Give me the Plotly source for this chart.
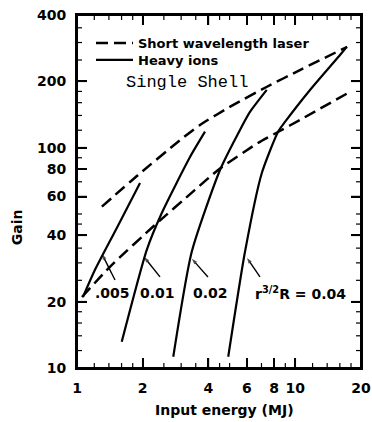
import numpy as np
import plotly.graph_objects as go

# ---- data (log-log axes) ----
laser_a_x = [1.30, 1.90, 2.96, 3.66, 5.18, 7.42, 10.5, 17.3]
laser_a_y = [54, 75, 108, 126.8, 156, 189, 225, 287]
laser_b_x = [1.054, 1.416, 2.277, 3.47, 4.43, 6.74, 8.33, 10.5, 17.43]
laser_b_y = [21.0, 28.8, 44.6, 64.3, 79.2, 105, 117.8, 133.6, 177.1]

ion_005_x = [1.065, 1.209, 1.52, 1.944]
ion_005_y = [21.0, 27.9, 43.1, 69.2]
ion_01_x = [1.603, 2.086, 2.443, 3.294, 3.858]
ion_01_y = [13.16, 34.3, 50.4, 90.7, 118.2]
ion_02_x = [2.761, 3.353, 4.52, 5.58, 6.20, 7.40]
ion_02_y = [11.25, 33.6, 79.2, 120.3, 145.2, 182.8]
ion_04_x = [4.93, 5.88, 7.02, 8.33, 8.97, 11.68, 16.03, 17.07]
ion_04_y = [11.25, 33.6, 76.5, 117.8, 130.8, 182.8, 263.5, 283.6]

curve_labels = [".005", "0.01", "0.02", "r<sup>3/2</sup>R = 0.04"]
label_x = [1.46, 2.33, 4.11, 10.6]
label_y = [21.9, 21.9, 21.9, 21.9]
leader_tail_x = [1.493, 2.40, 3.98, 6.89]
leader_tail_y = [25.1, 25.9, 25.9, 25.9]
leader_head_x = [1.302, 2.03, 3.36, 6.01]
leader_head_y = [32.9, 31.9, 31.3, 31.6]

x_lim = [1, 20]
y_lim = [10, 400]
x_ticks = [1, 2, 4, 6, 8, 10, 20]
x_minor = [1.2, 1.4, 1.6, 1.8, 2.5, 3, 3.5, 4.5, 5, 7, 9, 12, 14, 16, 18]
y_ticks = [10, 20, 40, 60, 80, 100, 200, 400]
y_minor = [12, 14, 16, 18, 25, 30, 35, 45, 50, 70, 90, 120, 140, 160, 180, 250, 300, 350]

INK = "black"
FONT = "DejaVu Sans"

fig = go.Figure()

dash_line = dict(color=INK, width=2.5, dash="12px,6px", shape="spline", smoothing=0.6)
solid_line = dict(color=INK, width=2.2, shape="spline", smoothing=0.6)

fig.add_trace(go.Scatter(x=laser_a_x, y=laser_a_y, mode="lines", line=dash_line,
                         name="<b>Short wavelength laser</b>", legend="legend", showlegend=True))
fig.add_trace(go.Scatter(x=laser_b_x, y=laser_b_y, mode="lines", line=dash_line,
                         showlegend=False))

first = True
for xs, ys in [(ion_005_x, ion_005_y), (ion_01_x, ion_01_y),
               (ion_02_x, ion_02_y), (ion_04_x, ion_04_y)]:
    fig.add_trace(go.Scatter(x=xs, y=ys, mode="lines", line=solid_line,
                             name="<b>Heavy ions</b>", legend="legend2", showlegend=first))
    first = False

# leader lines with small arrow heads
for tx, ty, hx, hy in zip(leader_tail_x, leader_tail_y, leader_head_x, leader_head_y):
    fig.add_trace(go.Scatter(
        x=[tx, hx], y=[ty, hy], mode="lines+markers",
        line=dict(color=INK, width=1.4),
        marker=dict(symbol=["circle", "arrow"], size=[0, 6], color=INK,
                    angleref="previous", line=dict(width=0)),
        showlegend=False, hoverinfo="skip"))

# ---- frame and inward ticks as layout shapes (positioned through the axes) ----
shapes = [dict(type="rect", xref="paper", yref="paper", x0=0, x1=1, y0=0, y1=1,
               line=dict(color=INK, width=2), layer="above")]
for vals, ln, w in [(x_ticks, 10, 1.5), (x_minor, 5, 1.2)]:
    for v in vals:
        for anchor, sign in [(0, 1), (1, -1)]:
            shapes.append(dict(type="line", xref="x", yref="paper", x0=v, x1=v,
                               ysizemode="pixel", yanchor=anchor, y0=0, y1=sign * ln,
                               line=dict(color=INK, width=w), layer="above"))
for vals, ln, w in [(y_ticks, 10, 1.5), (y_minor, 5, 1.2)]:
    for v in vals:
        for anchor, sign in [(0, 1), (1, -1)]:
            shapes.append(dict(type="line", yref="y", xref="paper", y0=v, y1=v,
                               xsizemode="pixel", xanchor=anchor, x0=0, x1=sign * ln,
                               line=dict(color=INK, width=w), layer="above"))

annotations = []
for txt, lx, ly in zip(curve_labels, label_x, label_y):
    annotations.append(dict(x=np.log10(lx), y=np.log10(ly), xref="x", yref="y",
                            text="<b>" + txt + "</b>", showarrow=False,
                            xanchor="center", yanchor="middle",
                            font=dict(family=FONT, size=14, color=INK)))

annotations.append(dict(x=0.389, y=0.810, xref="paper", yref="paper", text="Single Shell",
                        showarrow=False, xanchor="center", yanchor="middle",
                        font=dict(family="Liberation Mono", size=17, color=INK)))
annotations.append(dict(x=-0.211, y=0.399, xref="paper", yref="paper", text="<b>Gain</b>",
                        textangle=-90, showarrow=False, xanchor="center", yanchor="middle",
                        font=dict(family=FONT, size=14, color=INK)))
annotations.append(dict(x=0.521, y=-0.119, xref="paper", yref="paper",
                        text="<b>Input energy (MJ)</b>",
                        showarrow=False, xanchor="center", yanchor="middle",
                        font=dict(family=FONT, size=14, color=INK)))

tick_font = dict(family=FONT, size=14, color=INK)
axis_common = dict(type="log", showgrid=False, zeroline=False, automargin=False,
                   showline=True, linecolor=INK, linewidth=2, mirror="ticks",
                   ticks="inside", ticklen=10, tickwidth=1.5, tickcolor=INK,
                   tickmode="array", tickfont=tick_font, ticklabelstandoff=6)

fig.update_xaxes(**axis_common, range=[np.log10(x_lim[0]), np.log10(x_lim[1])],
                 tickvals=x_ticks, ticktext=["<b>%g</b>" % v for v in x_ticks])
fig.update_yaxes(**axis_common, range=[np.log10(y_lim[0]), np.log10(y_lim[1])],
                 tickvals=y_ticks, ticktext=["<b>%g</b>" % v for v in y_ticks])

legend_common = dict(bgcolor="rgba(0,0,0,0)", borderwidth=0, xanchor="left", yanchor="top",
                     itemwidth=37, font=dict(family=FONT, size=13, color=INK))

fig.update_layout(
    width=372, height=422,
    margin=dict(l=77, r=11, t=15, b=54, autoexpand=False),
    paper_bgcolor="white", plot_bgcolor="white",
    legend=dict(**legend_common, x=0.0493, y=0.963),
    legend2=dict(**legend_common, x=0.0493, y=0.915),
    annotations=annotations,
    shapes=shapes,
)

# page tweak: no default body margin so the figure sits at the window origin
POST = "document.body.style.margin='0';document.body.style.overflow='hidden';"
fig.write_html("out.html", config={"displayModeBar": False}, post_script=POST)
